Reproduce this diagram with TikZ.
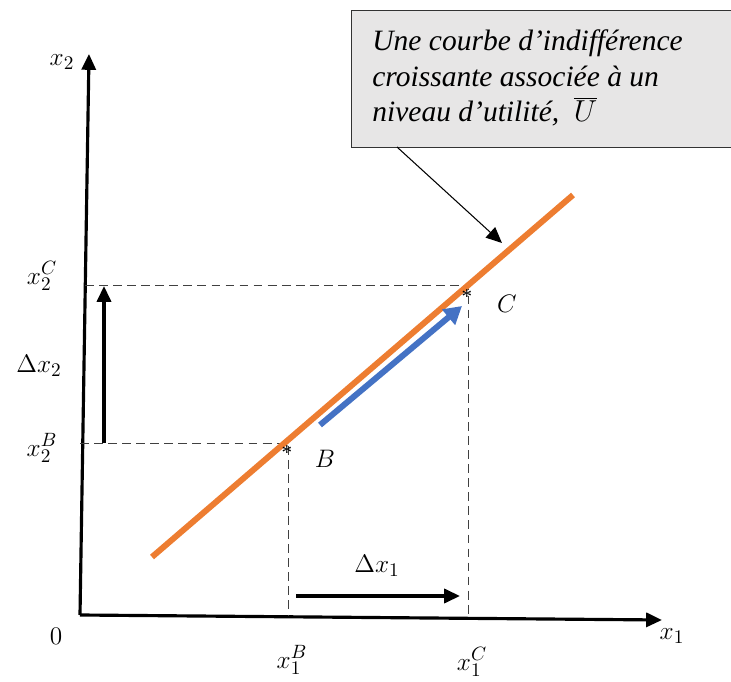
\documentclass[tikz,border=0pt]{standalone}
\usepackage{fontspec}
\setmainfont{Liberation Serif}
\usetikzlibrary{arrows.meta}
\definecolor{orng}{HTML}{ED7D31}
\definecolor{blu}{HTML}{4472C4}
\definecolor{boxgray}{HTML}{E7E6E6}
\begin{document}
\begin{tikzpicture}[x=0.02cm,y=-0.02cm,
  axis/.style={line width=1.8pt,-{Triangle[length=9pt,width=8pt]}},
  guide/.style={line width=0.5pt,dash pattern=on 5pt off 3pt,black!75},
  lbl/.style={inner sep=0pt,font=\fontsize{15}{17}\selectfont},
  bigarrow/.style={line width=1.8pt,-{Triangle[length=9pt,width=8pt]}},
  star/.style={inner sep=0pt,font=\fontsize{12}{12}\selectfont}]
\useasboundingbox (0,0) rectangle (731,682);
\clip (0,0) rectangle (731,682);
% callout box
\node[draw=black!80,fill=boxgray,line width=0.6pt,anchor=north west,inner sep=0pt,
  minimum height=137*0.02cm, minimum width=390*0.02cm] (box) at (351,10) {};
\node[anchor=west,inner sep=0pt,align=left,font=\itshape\fontsize{16.8}{20.3}\selectfont] (boxtxt) at (372,78)
  {Une courbe d’indifférence\\croissante associée à un\\niveau d’utilité,\ \ $\overline{U}$};
% axes
\coordinate (O) at (80,615);
\coordinate (Xe) at (662,620);
\coordinate (Ye) at (89,54);
\draw[axis] (O) -- (Xe);
\draw[axis] (O) -- (Ye);
% guides
\coordinate (B) at (288,443);
\coordinate (C) at (468,285);
\coordinate (Bx) at (288,615);
\coordinate (Cx) at (468,615);
\coordinate (By) at (80,443);
\coordinate (Cy) at (85,285);
\draw[guide] (By) -- (B) -- (Bx);
\draw[guide] (Cy) -- (C) -- (Cx);
% indifference curve
\coordinate (L0) at (152,557);
\coordinate (L1) at (573,195);
\draw[orng,line width=3.4pt] (L0) -- (L1);
% stars
\node[star] (sB) at (287,453) {*};
\node[star] (sC) at (467,297) {*};
% blue arrow
\coordinate (b0) at (320,425);
\coordinate (b1) at (462,306);
\draw[blu,line width=3.4pt,-{Triangle[length=10pt,width=11pt]}] (b0) -- (b1);
% delta arrows
\coordinate (u0) at (104,443);
\coordinate (u1) at (104,286);
\draw[bigarrow] (u0) -- (u1);
\coordinate (r0) at (296,596);
\coordinate (r1) at (460,596);
\draw[bigarrow] (r0) -- (r1);
% callout pointer
\coordinate (p0) at (397,147);
\coordinate (p1) at (502,243);
\draw[line width=0.6pt,-{Triangle[length=9pt,width=8pt]}] (p0) -- (p1);
% labels
\node[lbl] (lx2) at (62,62) {$x_2$};
\node[lbl] (l0) at (56,636) {$0$};
\node[lbl] (lx1) at (672,636) {$x_1$};
\node[lbl] (lx1B) at (292,660) {$x_1^B$};
\node[lbl] (lx1C) at (472,662) {$x_1^C$};
\node[lbl] (lx2C) at (42,276) {$x_2^C$};
\node[lbl] (ldx2) at (39,366) {$\Delta x_2$};
\node[lbl] (lx2B) at (42,448) {$x_2^B$};
\node[lbl] (ldx1) at (377,566) {$\Delta x_1$};
\node[lbl] (lB) at (325,459) {$B$};
\node[lbl] (lC) at (507,304) {$C$};
\end{tikzpicture}
\end{document}
